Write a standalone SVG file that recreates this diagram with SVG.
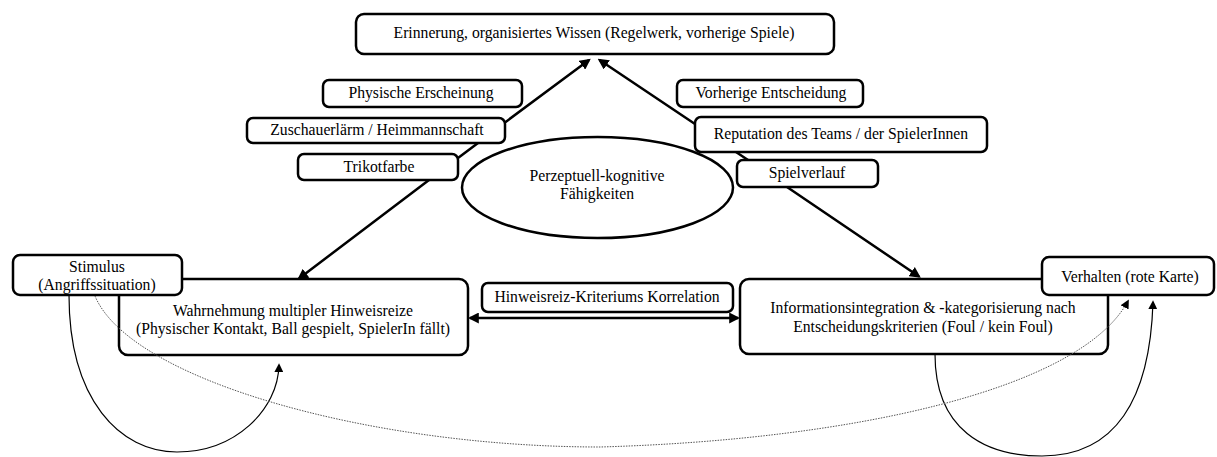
<svg xmlns="http://www.w3.org/2000/svg" width="1217" height="457" viewBox="0 0 1217 457">
<style>
.box{fill:#fff;stroke:#000;stroke-width:2.5}
.t{font-family:'Liberation Serif','Times New Roman','DejaVu Serif',serif;font-size:15.7px;fill:#000;text-anchor:middle}
.bold{fill:none;stroke:#000;stroke-width:2.5}
.thin{fill:none;stroke:#000;stroke-width:1.2}
.dot{fill:none;stroke:#555;stroke-width:1;stroke-dasharray:1.5 1.2}
</style>
<defs>
<marker id="ab" viewBox="0 0 10 10" refX="8" refY="5" markerWidth="11" markerHeight="11" markerUnits="userSpaceOnUse" orient="auto-start-reverse"><path d="M0,0 L10,5 L0,10 z" fill="#000"/></marker>
<marker id="at" viewBox="0 0 10 10" refX="8" refY="5" markerWidth="9" markerHeight="9" markerUnits="userSpaceOnUse" orient="auto-start-reverse"><path d="M0,0 L10,5 L0,10 z" fill="#000"/></marker>
</defs>
<rect x="0" y="0" width="1217" height="457" fill="#fff"/>
<g id="nodes">
<g id="erinnerung"><rect class="box" x="356" y="14" width="478" height="40" rx="8"/><text class="t" x="594" y="38">Erinnerung, organisiertes Wissen (Regelwerk, vorherige Spiele)</text></g>
<g id="physische"><rect class="box" x="323" y="80" width="199" height="27" rx="6"/><text class="t" x="421" y="98">Physische Erscheinung</text></g>
<g id="zuschauer"><rect class="box" x="247" y="118" width="258" height="25" rx="6"/><text class="t" x="377" y="135">Zuschauerlärm / Heimmannschaft</text></g>
<g id="trikot"><rect class="box" x="298" y="154" width="160" height="26" rx="6"/><text class="t" x="379" y="172">Trikotfarbe</text></g>
<g id="vorherige"><rect class="box" x="677" y="80" width="186" height="27" rx="6"/><text class="t" x="771" y="98">Vorherige Entscheidung</text></g>
<g id="reputation"><rect class="box" x="695" y="117" width="292" height="35" rx="6"/><text class="t" x="841" y="139">Reputation des Teams / der SpielerInnen</text></g>
<g id="spielverlauf"><rect class="box" x="737" y="160" width="141" height="27" rx="6"/><text class="t" x="807" y="178">Spielverlauf</text></g>
<g id="faehigkeiten"><ellipse class="box" cx="597.5" cy="187.5" rx="135.5" ry="50.5"/><text class="t" x="597" y="181">Perzeptuell-kognitive</text><text class="t" x="597" y="199">Fähigkeiten</text></g>
<g id="wahrnehmung"><rect class="box" x="119" y="279" width="349" height="76" rx="9"/><text class="t" x="293" y="316">Wahrnehmung multipler Hinweisreize</text><text class="t" x="293" y="334">(Physischer Kontakt, Ball gespielt, SpielerIn fällt)</text></g>
<g id="stimulus"><rect class="box" x="13" y="255" width="169" height="40" rx="7"/><text class="t" x="97" y="272">Stimulus</text><text class="t" x="97" y="290">(Angriffssituation)</text></g>
<g id="korrelation"><rect class="box" x="482" y="283" width="251" height="29" rx="6"/><text class="t" x="607" y="302">Hinweisreiz-Kriteriums Korrelation</text></g>
<g id="integration"><rect class="box" x="740" y="279" width="368" height="75" rx="9"/><text class="t" x="923" y="313">Informationsintegration &amp; -kategorisierung nach</text><text class="t" x="923" y="332">Entscheidungskriterien (Foul / kein Foul)</text></g>
<g id="verhalten"><rect class="box" x="1042" y="257" width="172" height="38" rx="7"/><text class="t" x="1130" y="282">Verhalten (rote Karte)</text></g>
</g>
<g id="connectors">
<path class="bold" d="M589,60 L505,122.4 M478,143 L458,158 M429,180 L299,278.5" marker-start="url(#ab)" marker-end="url(#ab)"/>
<path class="bold" d="M599.5,60 L695,124 M736,152 L748,160 M787,187 L919,276.5" marker-start="url(#ab)" marker-end="url(#ab)"/>
<path class="bold" d="M470,318 L738,318" marker-start="url(#ab)" marker-end="url(#ab)"/>
<path class="thin" d="M69,295 C69,400 120,452 177,452 C235,452 278,410 279,365" marker-end="url(#at)"/>
<path class="thin" d="M935,354 C935,430 985,456 1042,456 C1115,456 1150,400 1153,302" marker-end="url(#at)"/>
<path class="dot" d="M95,296 C130,380 370,447 600,447 C850,440 1080,390 1128,301" marker-end="url(#at)"/>
</g>
</svg>
